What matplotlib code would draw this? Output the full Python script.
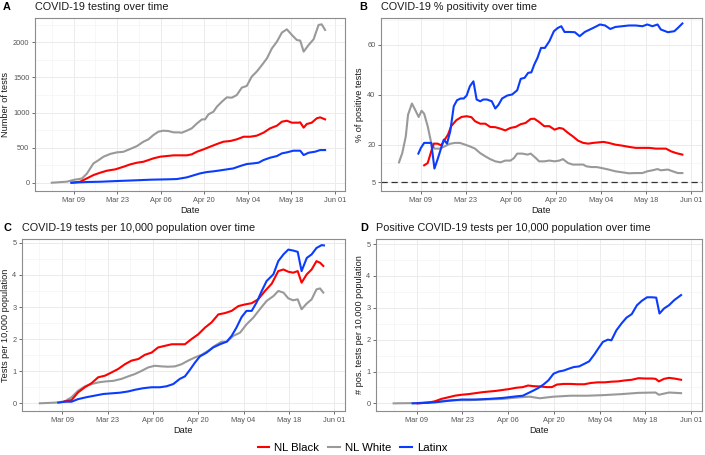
import matplotlib
matplotlib.use("Agg")
import matplotlib.pyplot as plt
import matplotlib.dates as mdates
from matplotlib.ticker import FixedLocator
from matplotlib.lines import Line2D
import datetime as dt

plt.rcParams['font.family'] = ['Liberation Sans', 'DejaVu Sans']

# ---------------- data (days since 2020-03-09) ----------------
# Panel A: Number of tests
a_gray_d = [-7, -2.1, 0, 2.7, 4.3, 6.4, 8, 9.6, 11.8, 13.9, 16, 18.2, 20.4, 22.5, 24.1, 25.7, 27.3, 28.9, 30.5,
            32.2, 33.8, 34.8, 36.4, 38, 39.7, 41.3, 42.3, 43.4, 45, 46.1, 47.7, 49.3, 50.9, 52.5, 54.1, 55.7,
            57.3, 58.9, 60.6, 62.2, 63.8, 65.4, 67, 68.6, 70.2, 71.8, 72.9, 74, 75.6, 77.2, 78.8, 79.8, 80.9]
a_gray_v = [0, 15, 40, 60, 130, 275, 320, 370, 410, 432, 440, 480, 522, 585, 618, 680, 727, 741, 736,
            717, 717, 712, 741, 774, 845, 902, 902, 974, 1012, 1083, 1154, 1216, 1211, 1249, 1354, 1378,
            1511, 1582, 1677, 1772, 1914, 2009, 2138, 2185, 2105, 2033, 2024, 1867, 1962, 2043, 2247, 2256, 2176]
a_red_d = [-0.5, 2.1, 4.3, 6.4, 8.6, 10.7, 13.4, 16.1, 18.2, 20.4, 22.5, 24.1, 25.7, 27.9, 30, 32.2, 34.3, 36.4,
           38, 39.7, 41.8, 43.9, 46.1, 48.2, 50.4, 52.5, 54.7, 56.8, 58.9, 61.1, 63.2, 65.4, 67, 68.6, 70.2,
           72.3, 72.9, 74, 75, 76.6, 78.2, 79.3, 80.9]
a_red_v = [0, 14, 62, 109, 143, 171, 190, 228, 261, 285, 299, 323, 347, 371, 380, 390, 390, 390,
           404, 442, 475, 513, 551, 584, 594, 618, 655, 655, 670, 713, 774, 812, 869, 883, 855,
           855, 860, 784, 836, 855, 917, 931, 902]
a_blue_d = [-0.75, 4.3, 8.6, 13.9, 19.3, 24.7, 30, 33.2, 36.4, 38.6, 40.7, 42.9, 45, 47.2, 49.3, 51.4, 53.6,
            55.7, 57.9, 59.5, 61.1, 63.2, 65.4, 67, 68.6, 70.7, 72.9, 74, 75.6, 77.7, 79.3, 80.9]
a_blue_v = [0, 10, 14, 24, 33, 43, 48, 52, 76, 105, 133, 152, 162, 176, 190, 204, 238,
            266, 276, 285, 323, 356, 380, 418, 432, 456, 456, 394, 427, 442, 465, 465]

# Panel B: % of positive tests
b_gray_d = [-6.8, -5.8, -4.7, -4, -2.8, -1.8, -0.7, 0.2, 1, 2.1, 3.2, 4.2, 5.8, 7.4, 8.9, 10.5, 12.1, 13.7,
            15.2, 16.8, 18.4, 20, 21.5, 23.1, 24.7, 26.2, 27.8, 28.9, 29.9, 31.5, 33.1, 34.1, 35.7, 36.7,
            38.3, 39.9, 41.5, 43, 44.1, 45.7, 47.2, 48.8, 50.4, 51.4, 53, 54.6, 56.2, 58.3, 60.4, 62.5,
            64.6, 66.7, 68.8, 70.3, 71.9, 73.5, 74.5, 76.7, 78.2, 79.8, 81.2]
b_gray_v = [12.9, 16.6, 23.3, 32, 36.5, 34, 31.1, 33.6, 32.4, 27.4, 20.7, 18.4, 18.4, 19.3, 20.3, 20.7, 20.7, 20,
            19.3, 18.4, 16.6, 15.3, 14.2, 13.3, 12.9, 13.6, 13.6, 14.6, 16.4, 16.4, 16, 16.4, 14.6, 13.3,
            13.3, 13.6, 13.3, 13.6, 14.2, 12.6, 12, 12, 12, 11.3, 11, 11, 10.6, 10, 9.3, 8.9,
            8.5, 8.6, 8.6, 9.3, 9.7, 10.2, 9.7, 10, 9.3, 8.6, 8.6]
b_red_d = [1, 2.1, 3.2, 4, 5.2, 6.3, 7.4, 8.4, 9.4, 11, 12.6, 14.2, 15.7, 16.8, 18.4, 20, 21.5, 23.1, 24.7,
           26.2, 27.8, 29.4, 31, 32.5, 34.1, 35.2, 36.7, 38.3, 39.9, 41.5, 43, 44.1, 45.7, 47.2, 48.8,
           50.4, 52, 53.5, 55.1, 56.7, 58.3, 60.4, 62.5, 64.6, 66.7, 68.8, 70.9, 73, 74.5, 76.1, 77.7,
           79.3, 81.2]
b_red_v = [11.7, 12.6, 17.3, 20.4, 20.4, 19.7, 22, 24, 27.4, 29.8, 31.1, 31.4, 31, 29.4, 28.4, 28.4, 27.1, 27, 26.4,
           25.7, 26.7, 27.1, 28.2, 28.7, 30.3, 30.4, 29.1, 27.4, 27.4, 26, 26.7, 26.4, 24.7, 23.3, 21.6,
           20.7, 20.4, 20.7, 20.9, 21.1, 20.7, 20, 19.6, 19.1, 18.7, 18.7, 18.7, 18.4, 18.4, 18.4, 17.3,
           16.6, 16]
b_blue_d = [-0.8, 0, 1, 2.1, 3.2, 4.2, 5.2, 6.3, 7.1, 8.1, 9.1, 10.2, 11.2, 12.3, 13.3, 14.2, 15.2, 16.3,
            17.3, 18.4, 19.4, 20.5, 22, 23.1, 24.1, 25.2, 26.8, 28.3, 29.9, 31, 32.2, 33.3, 34.3, 35.2,
            36.2, 37.3, 38.5, 39.9, 41.3, 42.5, 43.6, 44.6, 46.2, 47.8, 49.3, 50.9, 52.5, 54.1, 55.6,
            57.2, 58.8, 60.4, 62.5, 64.6, 66.7, 68.8, 70.3, 71.9, 73.5, 74.5, 76.7, 78.7, 79.8, 81.2]
b_blue_v = [16.4, 18.7, 20.7, 20.7, 20.7, 10.4, 14.2, 18.7, 22, 20.4, 25.3, 35.4, 37.8, 38.5, 38.5, 39.7, 43.4, 45.4,
            38.1, 37.4, 38.1, 38.1, 37.4, 34.5, 36, 38.5, 39.7, 40.1, 41.8, 46.4, 46.8, 48.8, 49, 52.1,
            54.8, 58.8, 58.8, 61.5, 65.5, 66.8, 67.5, 65.2, 65.2, 65.1, 63.5, 65.2, 66.2, 67.2, 68.2,
            67.8, 66.4, 67.2, 67.5, 67.8, 67.8, 67.5, 68.2, 67.5, 68.2, 66.2, 65.1, 65.5, 66.8, 68.6]

# Panel C: tests per 10,000 population
c_gray_d = [-6.9, -2.3, 0.8, 2.9, 4.9, 7, 9.1, 11.1, 13.2, 15.8, 18.3, 20.4, 22.4, 24.5, 26.6, 28.6, 30.7, 32.7,
            34.8, 36.9, 38.9, 41, 43, 45.1, 47.1, 49.2, 50.8, 52.8, 54.9, 56.9, 59, 61, 63.1, 65.2, 66.7,
            68.3, 69.8, 71.3, 72.7, 73.9, 75.5, 77, 78.5, 79.6, 80.6]
c_gray_v = [0, 0.02, 0.06, 0.19, 0.39, 0.53, 0.6, 0.65, 0.68, 0.7, 0.76, 0.84, 0.91, 1.01, 1.12, 1.17, 1.15, 1.14,
            1.15, 1.22, 1.33, 1.43, 1.51, 1.64, 1.79, 1.92, 1.92, 2.1, 2.2, 2.46, 2.67, 2.93, 3.19, 3.34, 3.5,
            3.45, 3.27, 3.21, 3.24, 2.93, 3.11, 3.24, 3.55, 3.58, 3.45]
c_red_d = [0.8, 2.9, 4.9, 7, 9.1, 11.1, 13.2, 15.2, 17.3, 19.4, 21.4, 23.5, 25.5, 27.6, 29.6, 31.7, 33.8, 35.8,
           37.9, 39.9, 42, 44.1, 46.1, 48.2, 50.2, 52.3, 54.4, 56.4, 58.5, 60.5, 62.6, 64.7, 66.7, 68.3,
           69.8, 71.3, 72.7, 73.9, 75.5, 77, 78.5, 79.6, 80.6]
c_red_v = [0.06, 0.1, 0.34, 0.5, 0.63, 0.81, 0.86, 0.96, 1.07, 1.22, 1.33, 1.38, 1.51, 1.58, 1.74, 1.79, 1.84, 1.84,
           1.84, 2.0, 2.15, 2.36, 2.52, 2.77, 2.81, 2.88, 3.03, 3.08, 3.12, 3.24, 3.5, 3.73, 4.12, 4.17,
           4.1, 4.07, 4.12, 3.76, 4.02, 4.17, 4.43, 4.38, 4.28]
c_blue_d = [-1.2, 0.8, 2.9, 4.9, 7.5, 10.1, 12.7, 15.2, 17.8, 20.4, 22.4, 25, 27.6, 30.2, 32.2, 34.3, 36.3, 37.9,
            39.4, 41, 42.5, 44.6, 46.6, 48.7, 50.8, 52.3, 53.8, 55.4, 56.9, 58.5, 60, 61.6, 63.1, 65.2,
            66.7, 68.3, 69.8, 71.3, 72.7, 73.9, 75.5, 77, 78.5, 80.1, 80.8]
c_blue_v = [0.02, 0.05, 0.05, 0.13, 0.19, 0.24, 0.29, 0.31, 0.33, 0.37, 0.42, 0.47, 0.5, 0.5, 0.53, 0.6, 0.76, 0.84,
            1.04, 1.27, 1.46, 1.58, 1.74, 1.84, 1.92, 2.1, 2.36, 2.69, 2.88, 2.88, 3.14, 3.5, 3.81, 4.02,
            4.43, 4.64, 4.79, 4.76, 4.72, 4.12, 4.53, 4.64, 4.84, 4.93, 4.92]

# Panel D: positive tests per 10,000 population
d_gray_d = [-7, 0.3, 5.5, 10.7, 15.9, 21.1, 26.3, 31.5, 34.6, 37.7, 41.9, 47.1, 52.3, 57.5, 62.7, 67.9, 73.1,
            74.1, 77.2, 80.9]
d_gray_v = [0, 0.01, 0.05, 0.1, 0.1, 0.12, 0.14, 0.19, 0.21, 0.16, 0.21, 0.24, 0.24, 0.26, 0.29, 0.33, 0.34,
            0.27, 0.34, 0.32]
d_red_d = [0.3, 3.4, 5.5, 7.6, 9.7, 11.7, 13.8, 15.9, 18, 20.1, 22.1, 24.2, 26.3, 28.4, 30.5, 32.5, 34.1, 35.7,
           37.7, 39.8, 41.4, 42.9, 45, 47.1, 49.2, 51.3, 53.3, 55.4, 57.5, 59.6, 61.6, 63.7, 65.8, 67.9,
           70, 72, 73.1, 74.1, 75.7, 77.2, 78.8, 80.9]
d_red_v = [0, 0.02, 0.06, 0.14, 0.19, 0.24, 0.27, 0.29, 0.32, 0.35, 0.37, 0.39, 0.42, 0.45, 0.49, 0.51, 0.56, 0.54,
           0.53, 0.51, 0.51, 0.59, 0.61, 0.61, 0.6, 0.6, 0.64, 0.66, 0.66, 0.68, 0.69, 0.72, 0.74, 0.79,
           0.78, 0.78, 0.77, 0.69, 0.77, 0.8, 0.78, 0.74]
d_blue_d = [-1.2, 1.4, 5.5, 9.7, 13.8, 18, 22.1, 26.3, 30.5, 32.5, 34.1, 35.7, 37.2, 38.8, 40.3, 41.9, 43.5, 45,
            46.6, 48.1, 49.7, 51.3, 52.8, 54.4, 55.9, 57, 58.5, 59.6, 61.1, 62.7, 64.2, 65.8, 67.4, 68.9,
            70.5, 72, 73.3, 74.3, 75.7, 77.2, 78.8, 80.9]
d_blue_v = [0, 0.01, 0.03, 0.08, 0.12, 0.12, 0.14, 0.17, 0.22, 0.24, 0.32, 0.4, 0.48, 0.59, 0.72, 0.93, 1.0, 1.03,
            1.09, 1.14, 1.16, 1.24, 1.32, 1.54, 1.77, 1.93, 2.0, 1.98, 2.29, 2.51, 2.69, 2.8, 3.08, 3.22,
            3.33, 3.33, 3.32, 2.82, 2.98, 3.08, 3.24, 3.4]

groups = ["NL Black", "NL White", "Latinx"]
colors = {"NL Black": "#FF0000", "NL White": "#999999", "Latinx": "#0A3CFF"}

tick_dates = ["2020-03-09", "2020-03-23", "2020-04-06", "2020-04-20", "2020-05-04", "2020-05-18", "2020-06-01"]
tick_labels = ["Mar 09", "Mar 23", "Apr 06", "Apr 20", "May 04", "May 18", "Jun 01"]

panels = [
    dict(letter="A", title="COVID-19 testing over time", ylabel="Number of tests",
         series={"NL White": (a_gray_d, a_gray_v), "NL Black": (a_red_d, a_red_v), "Latinx": (a_blue_d, a_blue_v)},
         yticks=[0, 500, 1000, 1500, 2000], yminor=[250, 750, 1250, 1750, 2250], ylim=(-118, 2346),
         box=(35, 345, 18, 191), letter_x=3),
    dict(letter="B", title="COVID-19 % positivity over time", ylabel="% of positive tests",
         series={"NL White": (b_gray_d, b_gray_v), "NL Black": (b_red_d, b_red_v), "Latinx": (b_blue_d, b_blue_v)},
         yticks=[5, 20, 40, 60], yminor=[12.5, 30, 50, 70], ylim=(1.4, 70.8), hline=5,
         box=(381, 702, 18, 191), letter_x=359),
    dict(letter="C", title="COVID-19 tests per 10,000 population over time", ylabel="Tests per 10,000 population",
         series={"NL White": (c_gray_d, c_gray_v), "NL Black": (c_red_d, c_red_v), "Latinx": (c_blue_d, c_blue_v)},
         yticks=[0, 1, 2, 3, 4, 5], yminor=[0.5, 1.5, 2.5, 3.5, 4.5], ylim=(-0.24, 5.12),
         box=(22, 345, 239, 411), letter_x=3),
    dict(letter="D", title="Positive COVID-19 tests per 10,000 population over time",
         ylabel="# pos. tests per 10,000 population",
         series={"NL White": (d_gray_d, d_gray_v), "NL Black": (d_red_d, d_red_v), "Latinx": (d_blue_d, d_blue_v)},
         yticks=[0, 1, 2, 3, 4, 5], yminor=[0.5, 1.5, 2.5, 3.5, 4.5], ylim=(-0.24, 5.16),
         box=(376, 702, 239, 411), letter_x=360),
]

W, H = 705, 455
fig = plt.figure(figsize=(W / 100, H / 100), dpi=100)
base = mdates.date2num(dt.datetime(2020, 3, 9))
tick_nums = [mdates.date2num(dt.datetime.strptime(s, "%Y-%m-%d")) for s in tick_dates]
minor_nums = [t - 7 for t in tick_nums] + [tick_nums[-1] + 7]

for p in panels:
    l, r, t, b = p["box"]
    ax = fig.add_axes([l / W, 1 - b / H, (r - l) / W, (b - t) / H])
    ax.set_facecolor("white")
    for name in ["NL White", "NL Black", "Latinx"]:
        d, v = p["series"][name]
        ax.plot([base + x for x in d], v, color=colors[name], lw=1.5, solid_joinstyle="round", zorder=3)
    if "hline" in p:
        ax.axhline(p["hline"], color="#333333", ls=(0, (5, 3)), lw=0.9, zorder=2)
    ax.set_xlim(base - 12.4, base + 87.3)
    ax.set_ylim(*p["ylim"])
    ax.xaxis.set_major_locator(FixedLocator(tick_nums))
    ax.set_xticklabels(tick_labels)
    ax.xaxis.set_minor_locator(FixedLocator(minor_nums))
    ax.yaxis.set_major_locator(FixedLocator(p["yticks"]))
    ax.yaxis.set_minor_locator(FixedLocator(p["yminor"]))
    ax.grid(which="major", color="#EBEBEB", lw=0.7, zorder=0)
    ax.grid(which="minor", color="#F4F4F4", lw=0.5, zorder=0)
    ax.set_axisbelow(True)
    ax.tick_params(which="major", length=2.5, width=0.6, color="#555555", labelsize=5.3,
                   labelcolor="#555555", pad=1.5)
    ax.tick_params(which="minor", length=0)
    for s in ax.spines.values():
        s.set_color("#8C8C8C")
        s.set_linewidth(0.8)
    ax.set_xlabel("Date", fontsize=6.6, labelpad=1.5, color="#1A1A1A")
    ax.set_ylabel(p["ylabel"], fontsize=6.6, labelpad=2, color="#1A1A1A")
    ytop = 1 - (t - 11) / H
    fig.text(p["letter_x"] / W, ytop, p["letter"], fontsize=7.8, fontweight="bold", va="center", ha="left")
    fig.text(l / W, ytop, p["title"], fontsize=7.8, va="center", ha="left", color="#1A1A1A")

handles = [Line2D([0], [0], color=colors[g], lw=1.5) for g in groups]
fig.legend(handles, groups, loc="center", bbox_to_anchor=(0.5, 1 - 448 / H), ncol=3, frameon=False,
           fontsize=8.2, handlelength=1.0, handletextpad=0.45, columnspacing=0.8)

fig.savefig("out.png", dpi=100, facecolor="white")
